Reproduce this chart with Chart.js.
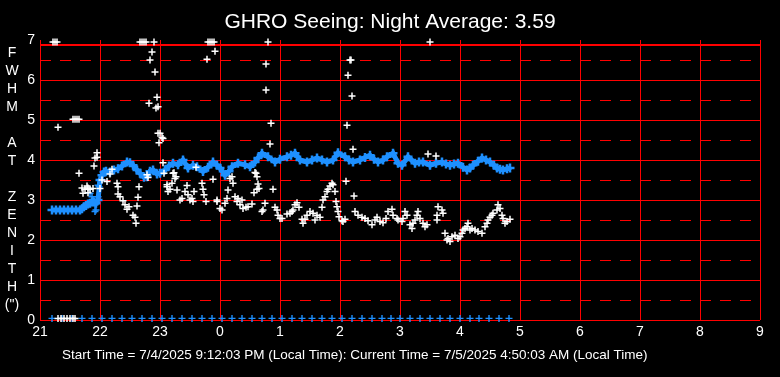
<!DOCTYPE html>
<html>
<head>
<meta charset="utf-8">
<script src="https://cdn.jsdelivr.net/npm/chart.js@4/dist/chart.umd.min.js"></script>
<style>
    html, body { margin: 0; padding: 0; background: #000; }
    #wrap { width: 780px; height: 377px; position: relative; }
</style>
</head>
<body>
<div id="wrap"><canvas id="seeing-chart" width="780" height="377"></canvas></div>
<script>
// times are minutes after 21:00 local time
const hourLabels = [21, 22, 23, 0, 1, 2, 3, 4, 5, 6, 7, 8, 9]
const solidLevels = [0, 1, 2, 3, 4, 5, 6, 6.875, 7]
const dashedLevels = [0.5, 1.5, 2.5, 3.5, 4.5, 5.5, 6.5]
const axisTitleLetters = ['F', 'W', 'H', 'M', '', 'A', 'T', '', 'Z', 'E', 'N', 'I', 'T', 'H', '(")']
const titleText = 'GHRO Seeing: Night Average: 3.59'
const footerText = 'Start Time = 7/4/2025 9:12:03 PM (Local Time): Current Time = 7/5/2025 4:50:03 AM (Local Time)'

// individual FWHM samples (white)
const sampleTimes = [
    13, 15, 17, 18, 18, 21, 24, 27, 30, 33,
    35, 33, 35, 37, 39, 39, 42, 43, 45, 47,
    48, 48, 50, 53, 54, 55, 57, 57, 60, 62,
    67, 70, 72, 77, 78, 78, 80, 83, 85, 87,
    89, 93, 95, 96, 97, 98, 99, 100, 102, 104,
    106, 107, 108, 109, 110, 112, 114, 115, 116, 117,
    118, 118, 119, 120, 122, 123, 123, 124, 127, 127,
    128, 130, 132, 133, 134, 135, 136, 137, 140, 142,
    145, 147, 148, 150, 152, 153, 154, 156, 162, 163,
    164, 166, 167, 168, 170, 172, 174, 175, 173, 177,
    177, 180, 182, 185, 187, 188, 190, 192, 193, 195,
    197, 198, 200, 202, 203, 206, 208, 212, 214, 215,
    216, 217, 217, 218, 219, 222, 223, 225, 226, 226,
    228, 230, 231, 233, 235, 237, 238, 240, 242, 247,
    250, 252, 253, 255, 257, 259, 262, 263, 265, 267,
    270, 273, 275, 277, 280, 282, 283, 285, 287, 288,
    290, 292, 293, 295, 296, 297, 298, 299, 302, 303,
    305, 306, 307, 308, 310, 311, 312, 313, 314, 315,
    318, 322, 325, 328, 332, 335, 337, 340, 343, 346,
    348, 352, 353, 357, 358, 362, 363, 365, 367, 370,
    372, 373, 375, 377, 378, 380, 383, 385, 387, 388,
    390, 396, 397, 397, 398, 402, 403, 405, 407, 408,
    410, 412, 415, 418, 420, 422, 423, 425, 427, 428,
    430, 432, 435, 438, 442, 445, 447, 448, 450, 452,
    453, 457, 458, 460, 462, 463, 465, 467, 470
]
const sampleValues = [
    6.95, 6.95, 6.95, 4.82, 0.04, 0.04, 0.04, 0.04, 0.04, 0.04,
    0.04, 5.02, 5.02, 5.02, 5.02, 3.67, 3.3, 3.17, 3.27, 3.35,
    3.18, 3.3, 3.27, 3.29, 3.85, 4.05, 4.07, 4.18, 3.29, 3.5,
    3.46, 3.65, 3.77, 3.42, 3.33, 3.15, 3.08, 2.98, 2.88, 2.77,
    2.83, 2.62, 2.57, 2.42, 2.85, 3.07, 3.33, 6.95, 6.95, 6.95,
    6.95, 3.63, 3.56, 5.42, 6.5, 6.7, 6.95, 6.2, 5.3, 5.57,
    5.33, 4.67, 4.43, 4.67, 4.56, 4.54, 3.93, 3.67, 3.33, 3.38,
    3.21, 3.27, 3.42, 3.67, 3.68, 3.54, 3.58, 3.25, 3.0, 3.04,
    3.21, 3.36, 3.13, 3.0, 3.04, 2.96, 3.21, 3.82, 3.42, 3.27,
    3.13, 2.96, 6.52, 6.95, 6.95, 6.95, 6.95, 6.72, 3.52, 3.0,
    2.96, 2.79, 2.75, 2.92, 3.04, 3.25, 3.54, 3.58, 3.42, 3.08,
    2.96, 3.04, 2.88, 3.0, 2.79, 2.82, 2.83, 2.9, 3.18, 3.69,
    3.67, 3.27, 3.58, 3.4, 3.29, 2.71, 2.75, 2.92, 6.4, 5.75,
    6.95, 4.4, 4.92, 3.27, 2.82, 2.75, 2.62, 2.54, 2.54, 2.65,
    2.67, 2.71, 2.75, 2.88, 2.93, 2.82, 2.52, 2.42, 2.52, 2.62,
    2.71, 2.67, 2.5, 2.62, 2.57, 2.82, 3.0, 3.08, 3.21, 3.27,
    3.35, 3.42, 3.38, 3.21, 2.96, 2.83, 2.71, 2.58, 2.48, 2.46,
    2.52, 3.47, 4.87, 6.12, 6.5, 6.5, 5.6, 4.27, 3.1, 2.71,
    2.62, 2.57, 2.54, 2.48, 2.38, 2.5, 2.57, 2.46, 2.43, 2.54,
    2.71, 2.77, 2.62, 2.54, 2.5, 2.46, 2.54, 2.71, 2.62, 2.38,
    2.29, 2.42, 2.5, 2.62, 2.71, 2.54, 2.42, 2.33, 2.38, 4.15,
    6.95, 4.1, 2.62, 2.5, 2.83, 2.75, 2.67, 2.17, 2.0, 2.04,
    1.96, 2.08, 2.12, 2.04, 2.08, 2.17, 2.25, 2.29, 2.33, 2.42,
    2.25, 2.29, 2.25, 2.21, 2.17, 2.33, 2.42, 2.5, 2.57, 2.62,
    2.67, 2.75, 2.88, 2.79, 2.62, 2.54, 2.42, 2.46, 2.52
]

// running average (blue)
const averageTimes = [
    12, 16, 20, 24, 28, 32, 36, 40, 42, 44,
    46, 48, 50, 52, 54, 56, 58, 60, 62, 64,
    66, 70, 74, 78, 82, 87, 90, 93, 97, 100,
    104, 107, 110, 113, 117, 120, 125, 129, 133, 138,
    143, 148, 153, 157, 163, 168, 173, 177, 180, 185,
    189, 192, 198, 205, 210, 215, 218, 222, 228, 235,
    240, 247, 251, 255, 260, 267, 272, 277, 282, 287,
    293, 298, 305, 309, 313, 320, 325, 330, 334, 338,
    343, 347, 353, 358, 362, 368, 375, 379, 383, 390,
    396, 402, 406, 410, 414, 418, 423, 427, 430, 433,
    438, 442, 446, 450, 454, 457, 460, 463, 467, 470
]
const averageValues = [
    2.75, 2.75, 2.75, 2.75, 2.75, 2.75, 2.75, 2.75, 2.78, 2.83,
    2.86, 2.9, 2.92, 2.95, 2.95, 2.92, 3.0, 3.5, 3.62, 3.7,
    3.72, 3.7, 3.75, 3.78, 3.85, 3.95, 3.93, 3.87, 3.75, 3.67,
    3.57, 3.58, 3.72, 3.75, 3.65, 3.67, 3.75, 3.85, 3.92, 3.88,
    4.0, 3.8, 3.87, 3.83, 3.71, 3.82, 3.95, 3.87, 3.8, 3.62,
    3.72, 3.83, 3.92, 3.88, 3.83, 3.95, 4.05, 4.17, 4.08, 3.95,
    4.02, 4.08, 4.12, 4.17, 4.0, 3.95, 4.0, 4.05, 4.0, 3.95,
    4.0, 4.18, 4.08, 4.0, 3.95, 4.0, 4.06, 4.12, 4.02, 3.95,
    4.0, 4.08, 4.17, 3.92, 3.87, 4.08, 3.92, 3.95, 3.95, 3.87,
    3.92, 3.95, 3.9, 3.87, 3.9, 3.92, 3.82, 3.75, 3.8, 3.87,
    3.97, 4.05, 4.0, 3.95, 3.87, 3.8, 3.77, 3.75, 3.78, 3.8
]
// early scattered average points while the average settled
const averageEarlyTimes = [43, 47, 50, 52, 53, 55, 55, 56, 58, 58, 59, 62]
const averageEarlyValues = [2.83, 2.88, 3.17, 3.08, 3.0, 2.88, 2.71, 2.75, 3.08, 3.37, 3.33, 3.5]

// zero readings along the bottom (blue)
const zeroTimes = [
    12, 22, 32, 42, 52, 62, 72, 82, 92, 102,
    112, 122, 132, 142, 152, 162, 172, 182, 192, 202,
    212, 222, 232, 242, 252, 262, 272, 282, 292, 302,
    312, 322, 332, 342, 351, 360, 370, 380, 390, 400,
    410, 420, 430, 439, 449, 459, 469
]
const zeroValues = zeroTimes.map(() => 0.04)

const WHITE = '#ffffff'
const BLUE = '#1e90ff'
const RED = '#ff0000'
const FONT = "'Liberation Sans', Arial, sans-serif"
// keeps float rounding from pushing a grid line one pixel row up
const LEVEL_NUDGE = 1e-9

const toPoints = (xs, ys) => xs.map((x, i) => ({ x, y: ys[i] }))

const textPlugin = {
    id: 'seeingText',
    afterDraw(chart) {
        const ctx = chart.ctx
        ctx.save()
        ctx.fillStyle = WHITE
        ctx.textBaseline = 'middle'
        ctx.textAlign = 'center'
        ctx.font = `21px ${FONT}`
        ctx.fillText(titleText, 390, 22)
        ctx.font = `14px ${FONT}`
        axisTitleLetters.forEach((letter, i) => {
            if (letter) ctx.fillText(letter, 12, 53 + i * 18)
        })
        ctx.textAlign = 'left'
        ctx.font = `13.5px ${FONT}`
        ctx.fillText(footerText, 62, 355)
        ctx.restore()
    }
}

const initChart = () => {
    const canvasEl = document.getElementById('seeing-chart')
    new Chart(canvasEl.getContext('2d'), {
        type: 'scatter',
        data: {
            datasets: [{
                label: 'FWHM',
                data: toPoints(sampleTimes, sampleValues),
                pointStyle: 'cross',
                pointRadius: 3.5,
                pointBorderWidth: 1.5,
                pointBorderColor: WHITE,
                clip: false
            }, {
                label: 'Average',
                data: toPoints(averageTimes, averageValues),
                showLine: true,
                borderColor: BLUE,
                borderWidth: 5,
                pointStyle: 'cross',
                pointRadius: 4.5,
                pointBorderWidth: 2.5,
                pointBorderColor: BLUE,
                clip: false
            }, {
                label: 'Average early',
                data: toPoints(averageEarlyTimes, averageEarlyValues),
                pointStyle: 'cross',
                pointRadius: 3.5,
                pointBorderWidth: 1.5,
                pointBorderColor: BLUE,
                clip: false
            }, {
                label: 'Zero',
                data: toPoints(zeroTimes, zeroValues),
                pointStyle: 'cross',
                pointRadius: 3.5,
                pointBorderWidth: 1.4,
                pointBorderColor: BLUE,
                clip: false
            }]
        },
        options: {
            responsive: false,
            animation: false,
            events: [],
            layout: { padding: { top: 40, right: 20, bottom: 32, left: 0 } },
            plugins: {
                legend: { display: false },
                title: { display: false },
                tooltip: { enabled: false }
            },
            scales: {
                x: {
                    type: 'linear',
                    min: 0,
                    max: 720,
                    afterFit: scale => { scale.height = 25 },
                    afterBuildTicks: scale => {
                        scale.ticks = hourLabels.map((h, i) => ({ value: i * 60 }))
                    },
                    ticks: {
                        autoSkip: false,
                        maxRotation: 0,
                        padding: 4,
                        color: WHITE,
                        font: { family: FONT, size: 14 },
                        callback: (value, index) => hourLabels[index]
                    },
                    grid: { color: RED, lineWidth: 1, drawTicks: false },
                    border: { display: false }
                },
                y: {
                    position: 'left',
                    min: 0,
                    max: 7,
                    afterFit: scale => { scale.width = 40 },
                    afterBuildTicks: scale => {
                        scale.ticks = solidLevels.map(value => ({ value: value > 0 ? value - LEVEL_NUDGE : value }))
                    },
                    ticks: {
                        autoSkip: false,
                        padding: 5,
                        color: WHITE,
                        font: { family: FONT, size: 14 },
                        callback: value => {
                            const level = Math.round(value * 1000) / 1000
                            return Number.isInteger(level) ? level : ''
                        }
                    },
                    grid: {
                        drawTicks: false,
                        // the top frame sits just below the 7 level, which carries only its label
                        lineWidth: solidLevels.map(v => v === 6.875 ? 2 : 1),
                        color: solidLevels.map(v => v === 7 ? 'rgba(0,0,0,0)' : RED)
                    },
                    border: { display: false }
                },
                yHalf: {
                    position: 'left',
                    min: 0,
                    max: 7,
                    afterFit: scale => { scale.width = 0 },
                    afterBuildTicks: scale => {
                        scale.ticks = dashedLevels.map(value => ({ value: value - LEVEL_NUDGE }))
                    },
                    ticks: { display: false },
                    grid: { drawTicks: false, lineWidth: 1, color: RED },
                    border: { display: false, dash: [11, 9] }
                }
            }
        },
        plugins: [textPlugin]
    })
}

document.addEventListener('DOMContentLoaded', initChart, false)
</script>
</body>
</html>
